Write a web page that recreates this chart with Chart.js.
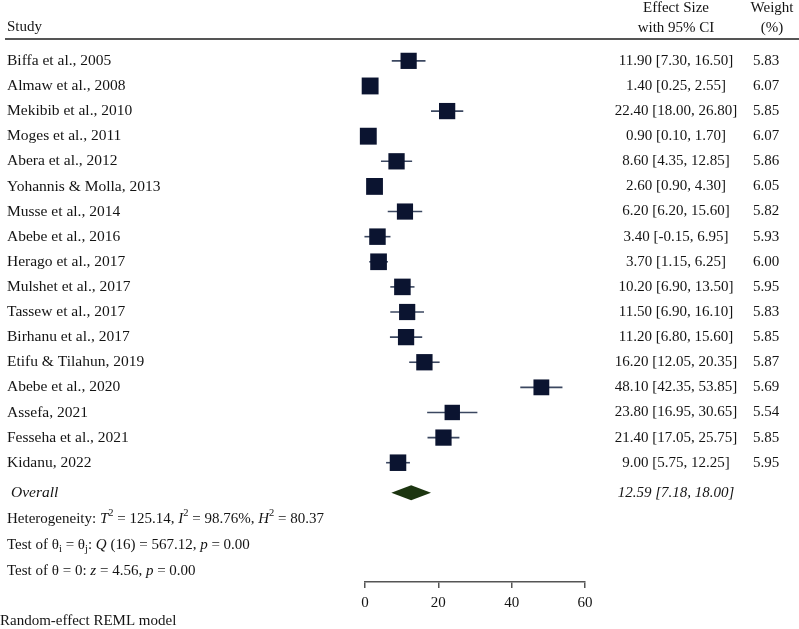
<!DOCTYPE html>
<html>
<head>
<meta charset="utf-8">
<script src="https://cdn.jsdelivr.net/npm/chart.js@4"></script>
<style>
  html, body { margin: 0; padding: 0; background: #fff; }
  canvas { display: block; }
</style>
</head>
<body>
<canvas id="myChart" width="799" height="629"></canvas>
<script>
const studies = [
    'Biffa et al., 2005',
    'Almaw et al., 2008',
    'Mekibib et al., 2010',
    'Moges et al., 2011',
    'Abera et al., 2012',
    'Yohannis & Molla, 2013',
    'Musse et al., 2014',
    'Abebe et al., 2016',
    'Herago et al., 2017',
    'Mulshet et al., 2017',
    'Tassew et al., 2017',
    'Birhanu et al., 2017',
    'Etifu & Tilahun, 2019',
    'Abebe et al., 2020',
    'Assefa, 2021',
    'Fesseha et al., 2021',
    'Kidanu, 2022',
];
// point estimate as plotted (Musse square sits mid-interval in the figure)
const estimate = [11.9, 1.4, 22.4, 0.9, 8.6, 2.6, 10.9, 3.4, 3.7, 10.2, 11.5, 11.2, 16.2, 48.1, 23.8, 21.4, 9.0];
const lower = [7.3, 0.25, 18.0, 0.1, 4.35, 0.9, 6.2, -0.15, 1.15, 6.9, 6.9, 6.8, 12.05, 42.35, 16.95, 17.05, 5.75];
const upper = [16.5, 2.55, 26.8, 1.7, 12.85, 4.3, 15.6, 6.95, 6.25, 13.5, 16.1, 15.6, 20.35, 53.85, 30.65, 25.75, 12.25];
const effectText = [
    '11.90 [7.30, 16.50]',
    '1.40 [0.25, 2.55]',
    '22.40 [18.00, 26.80]',
    '0.90 [0.10, 1.70]',
    '8.60 [4.35, 12.85]',
    '2.60 [0.90, 4.30]',
    '6.20 [6.20, 15.60]',
    '3.40 [-0.15, 6.95]',
    '3.70 [1.15, 6.25]',
    '10.20 [6.90, 13.50]',
    '11.50 [6.90, 16.10]',
    '11.20 [6.80, 15.60]',
    '16.20 [12.05, 20.35]',
    '48.10 [42.35, 53.85]',
    '23.80 [16.95, 30.65]',
    '21.40 [17.05, 25.75]',
    '9.00 [5.75, 12.25]',
];
const weights = [5.83, 6.07, 5.85, 6.07, 5.86, 6.05, 5.82, 5.93, 6.00, 5.95, 5.83, 5.85, 5.87, 5.69, 5.54, 5.85, 5.95];

const overall = { est: 12.59, lo: 7.18, hi: 18.00, text: '12.59 [7.18, 18.00]' };
const xTicks = [0, 20, 40, 60];

const SERIF = '"Liberation Serif", "DejaVu Serif", serif';
const TEXT = '#141414';
const BOX = '#0b1430';
const OVERALL_ROW = 17.2;

function font(size, italic) {
    return (italic ? 'italic ' : '') + size + 'px ' + SERIF;
}

// draw a line of mixed text: {t, it, sup, sub}
function drawRuns(ctx, x, y, runs, size) {
    ctx.textAlign = 'left';
    ctx.textBaseline = 'middle';
    runs.forEach(function (r) {
        let s = size, dy = 0;
        if (r.sup) { s = size * 0.7; dy = -size * 0.35; }
        if (r.sub) { s = size * 0.7; dy = size * 0.3; }
        ctx.font = font(s, r.it);
        ctx.fillText(r.t, x, y + dy);
        x += ctx.measureText(r.t).width;
    });
}

const forestPlugin = {
    id: 'forest',
    beforeDatasetsDraw(chart) {
        const ctx = chart.ctx;
        const xs = chart.scales.x, ys = chart.scales.y;
        ctx.save();
        ctx.strokeStyle = '#3b4760';
        ctx.lineWidth = 1.6;
        for (let i = 0; i < studies.length; i++) {
            const y = ys.getPixelForValue(i);
            ctx.beginPath();
            ctx.moveTo(xs.getPixelForValue(lower[i]), y);
            ctx.lineTo(xs.getPixelForValue(upper[i]), y);
            ctx.stroke();
        }
        ctx.restore();
    },
    afterDraw(chart) {
        const ctx = chart.ctx;
        const xs = chart.scales.x, ys = chart.scales.y;
        ctx.save();

        // overall diamond
        const yo = ys.getPixelForValue(OVERALL_ROW);
        ctx.fillStyle = '#1c3510';
        ctx.beginPath();
        ctx.moveTo(xs.getPixelForValue(overall.lo), yo);
        ctx.lineTo(xs.getPixelForValue(overall.est), yo - 7.5);
        ctx.lineTo(xs.getPixelForValue(overall.hi), yo);
        ctx.lineTo(xs.getPixelForValue(overall.est), yo + 7.5);
        ctx.closePath();
        ctx.fill();

        // header
        ctx.fillStyle = TEXT;
        ctx.textBaseline = 'middle';
        ctx.font = font(15);
        ctx.textAlign = 'left';
        ctx.fillText('Study', 7, 27);
        ctx.textAlign = 'center';
        ctx.fillText('Effect Size', 676, 8);
        ctx.fillText('with 95% CI', 676, 28);
        ctx.fillText('Weight', 772, 8);
        ctx.fillText('(%)', 772, 28);

        ctx.strokeStyle = '#555';
        ctx.lineWidth = 2;
        ctx.beginPath();
        ctx.moveTo(5, 39);
        ctx.lineTo(799, 39);
        ctx.stroke();

        // rows
        for (let i = 0; i < studies.length; i++) {
            const y = ys.getPixelForValue(i);
            ctx.font = font(15.5);
            ctx.textAlign = 'left';
            ctx.fillText(studies[i], 7, y);
            ctx.font = font(15);
            ctx.textAlign = 'center';
            ctx.fillText(effectText[i], 676, y);
            ctx.fillText(weights[i].toFixed(2), 766, y);
        }

        ctx.font = font(15.5, true);
        ctx.textAlign = 'left';
        ctx.fillText('Overall', 11, yo);
        ctx.font = font(15, true);
        ctx.textAlign = 'center';
        ctx.fillText(overall.text, 676, yo);

        drawRuns(ctx, 7, yo + 26, [
            { t: 'Heterogeneity: ' }, { t: 'T', it: true }, { t: '2', sup: true },
            { t: ' = 125.14, ' }, { t: 'I', it: true }, { t: '2', sup: true },
            { t: ' = 98.76%, ' }, { t: 'H', it: true }, { t: '2', sup: true },
            { t: ' = 80.37' },
        ], 15);
        drawRuns(ctx, 7, yo + 52, [
            { t: 'Test of θ' }, { t: 'i', sub: true }, { t: ' = θ' }, { t: 'j', sub: true },
            { t: ': ' }, { t: 'Q', it: true }, { t: ' (16) = 567.12, ' },
            { t: 'p', it: true }, { t: ' = 0.00' },
        ], 15);
        drawRuns(ctx, 7, yo + 78, [
            { t: 'Test of θ = 0: ' }, { t: 'z', it: true }, { t: ' = 4.56, ' },
            { t: 'p', it: true }, { t: ' = 0.00' },
        ], 15);

        ctx.font = font(15);
        ctx.textAlign = 'left';
        ctx.fillText('Random-effect REML model', 0, 621);
        ctx.restore();
    }
};

const points = estimate.map(function (v, i) { return { x: v, y: i }; });
const radii = weights.map(function (w) { return (w * 2.78) / 2 / Math.SQRT1_2; });

new Chart(document.getElementById('myChart'), {
    type: 'scatter',
    data: {
        datasets: [{
            data: points,
            pointStyle: 'rect',
            pointRadius: radii,
            backgroundColor: BOX,
            borderColor: BOX,
            borderWidth: 0,
            clip: false
        }]
    },
    options: {
        responsive: false,
        animation: false,
        events: [],
        layout: { padding: { left: 365, right: 214, top: 39, bottom: 11 } },
        plugins: { legend: { display: false }, tooltip: { enabled: false } },
        scales: {
            x: {
                type: 'linear',
                min: xTicks[0],
                max: xTicks[xTicks.length - 1],
                afterBuildTicks(axis) {
                    axis.ticks = xTicks.map(function (v) { return { value: v }; });
                },
                grid: { drawOnChartArea: false, drawTicks: true, tickLength: 6, color: '#555', lineWidth: 1.5 },
                border: { display: true, color: '#555', width: 1.5 },
                ticks: { color: TEXT, font: { family: SERIF, size: 15 }, padding: 6, maxRotation: 0 }
            },
            y: {
                type: 'linear',
                display: false,
                reverse: true,
                min: -0.87,
                max: 20.75
            }
        }
    },
    plugins: [forestPlugin]
});
</script>
</body>
</html>
